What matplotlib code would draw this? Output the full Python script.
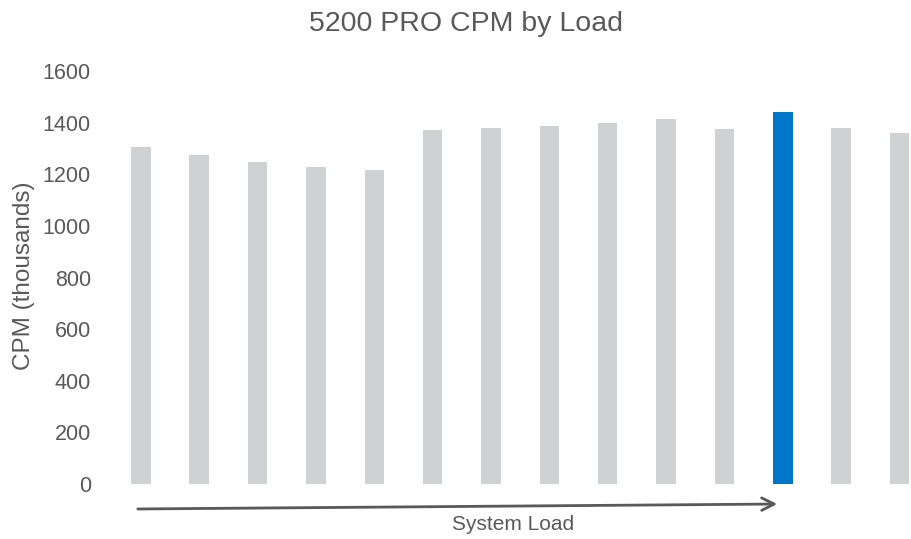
import matplotlib
matplotlib.use("Agg")
import matplotlib.pyplot as plt

plt.rcParams['font.family'] = ['Liberation Sans', 'DejaVu Sans']

loads = list(range(1, 15))
cpm = [1306, 1275, 1248, 1229, 1217, 1372, 1380, 1388, 1399, 1415, 1376, 1442, 1380, 1360]
highlight = 11  # index of highlighted bar
grey = '#D0D1D3'
blue = '#0077C8'
colors = [blue if i == highlight else grey for i in range(len(cpm))]
yticks = [0, 200, 400, 600, 800, 1000, 1200, 1400, 1600]

fig = plt.figure(figsize=(9.11, 5.39), dpi=100)
ax = fig.add_axes([0.1225, 0.102, 0.897, 0.766])
ax.bar(loads, cpm, width=0.333, color=colors)
ax.set_xlim(0.5, 14.5)
ax.set_ylim(0, 1600)
ax.set_yticks(yticks)
ax.set_yticklabels([str(v) for v in yticks], fontsize=15.5, color='#595959')
ax.tick_params(axis='y', length=0, pad=15)
ax.set_xticks([])
for s in ax.spines.values():
    s.set_visible(False)

fig.text(0.511, 0.956, '5200 PRO CPM by Load', ha='center', va='center', fontsize=20.5, color='#595959')
fig.text(0.026, 0.488, 'CPM (thousands)', rotation=90, ha='center', va='center', fontsize=17.5, color='#595959')
fig.text(0.563, 0.027, 'System Load', ha='center', va='center', fontsize=15, color='#595959')

ax.annotate('', xy=(780 / 911, 1 - 504 / 539), xytext=(135 / 911, 1 - 509 / 539),
            xycoords='figure fraction', textcoords='figure fraction',
            arrowprops=dict(arrowstyle='->,head_length=0.9,head_width=0.45', color='#595959', lw=2))

fig.savefig('out.png', dpi=100)
